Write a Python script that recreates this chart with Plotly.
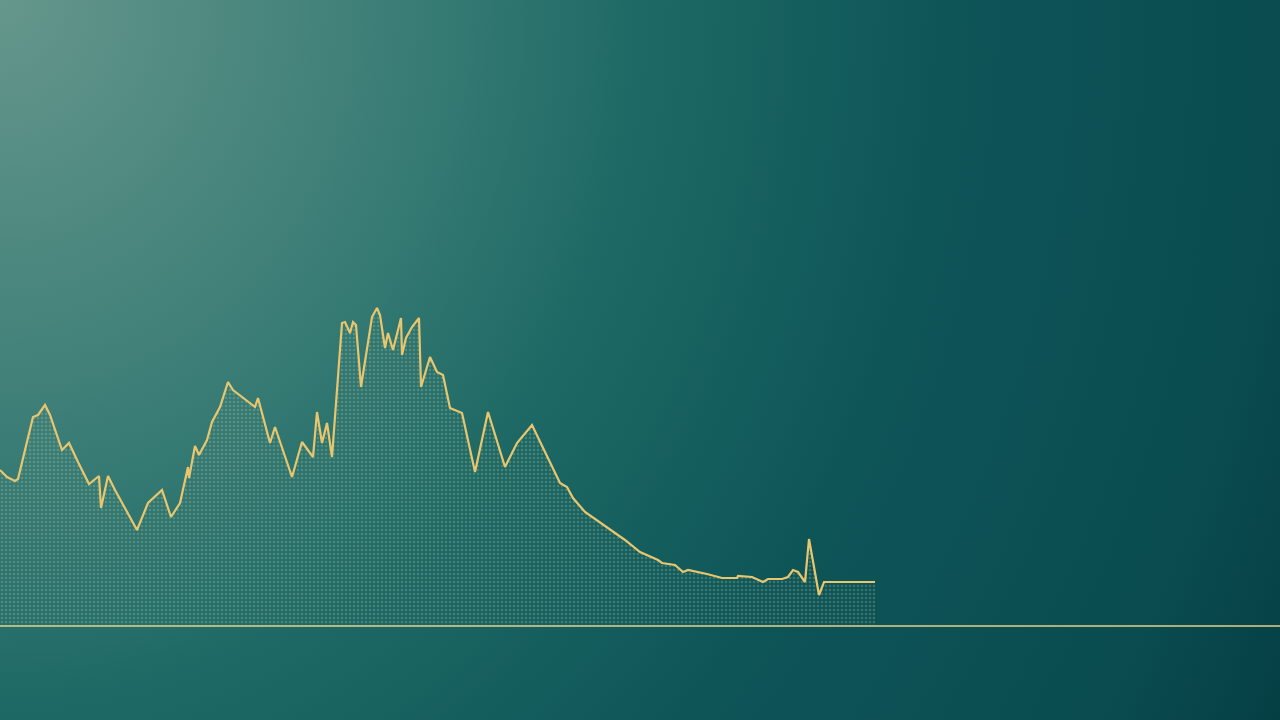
import plotly.graph_objects as go
import urllib.parse

# Horizontal position of each sample (chart units) and height above the baseline
x_vals = [0, 7, 15, 18, 33, 38, 45, 50, 62, 69, 78, 89, 99, 101, 108, 115, 137, 148,
          162, 171, 180, 188, 189, 195, 199, 207, 212, 220, 228, 233, 255, 258, 270, 275,
          292, 302, 313, 317, 322, 327, 332, 342, 345, 350, 353, 356, 361, 372, 377, 380,
          385, 388, 393, 401, 402, 406, 412, 419, 421, 430, 437, 443, 450, 462, 475, 488,
          505, 517, 532, 547, 560, 567, 573, 585, 603, 625, 640, 658, 662, 675, 683, 688,
          707, 722, 737, 738, 752, 763, 768, 782, 788, 793, 798, 805, 809, 815, 819, 824, 875]
y_vals = [156, 149, 145, 147, 209, 211, 221, 211, 176, 183, 164, 142, 150, 118, 150, 136,
          96, 123, 136, 109, 123, 159, 148, 180, 171, 186, 204, 219, 244, 236, 219, 228,
          183, 199, 149, 184, 169, 214, 183, 203, 169, 303, 304, 293, 304, 301, 239, 309,
          318, 311, 278, 293, 276, 308, 271, 288, 299, 308, 239, 269, 254, 251, 218, 213,
          154, 214, 159, 183, 201, 169, 143, 139, 128, 114, 101, 86, 74, 66, 63, 61, 54,
          56, 52, 48, 48, 50, 49, 44, 47, 47, 49, 56, 54, 44, 87, 53, 31, 44, 44]

x_range = [0, 1280]
y_range = [-94, 626]

line_color = "#e9c66e"
base_color = "#e3d08e"

svg = (
    '<svg xmlns="http://www.w3.org/2000/svg" width="1280" height="720" viewBox="0 0 1280 720" preserveAspectRatio="none">'
    '<defs><radialGradient id="g" gradientUnits="userSpaceOnUse" cx="0" cy="0" r="1450" '
    'gradientTransform="scale(1,1.1)">'
    '<stop offset="0" stop-color="#66978c"/>'
    '<stop offset="0.28" stop-color="#3a7d76"/>'
    '<stop offset="0.45" stop-color="#1d6864"/>'
    '<stop offset="0.65" stop-color="#0e5558"/>'
    '<stop offset="0.88" stop-color="#0a4c50"/>'
    '<stop offset="1" stop-color="#043e43"/>'
    '</radialGradient></defs>'
    '<rect x="0" y="0" width="1280" height="720" fill="url(#g)"/></svg>'
)
bg_uri = "data:image/svg+xml;charset=utf-8," + urllib.parse.quote(svg)

fig = go.Figure()

fig.add_trace(go.Scatter(
    x=x_vals, y=y_vals, mode="lines",
    line=dict(color=line_color, width=2.2),
    fill="tozeroy",
    fillcolor="rgba(0,0,0,0)",
    fillpattern=dict(shape=".", fgcolor="rgba(195,210,170,0.5)", bgcolor="rgba(0,0,0,0)",
                     size=4, solidity=0.35, fillmode="overlay"),
    hoverinfo="skip", showlegend=False,
))

fig.add_shape(type="line", xref="paper", x0=0, x1=1, yref="y", y0=0, y1=0,
              line=dict(color=base_color, width=1.5), layer="above")

fig.add_layout_image(dict(source=bg_uri, xref="paper", yref="paper", x=0, y=1,
                          sizex=1, sizey=1, sizing="stretch", layer="below",
                          xanchor="left", yanchor="top"))

fig.update_layout(
    width=1280, height=720,
    margin=dict(l=0, r=0, t=0, b=0),
    paper_bgcolor="#0b5357",
    plot_bgcolor="rgba(0,0,0,0)",
    xaxis=dict(range=x_range, visible=False, fixedrange=True),
    yaxis=dict(range=y_range, visible=False, fixedrange=True),
    showlegend=False,
)

fig.write_html("out.html", config={"displayModeBar": False},
               post_script="document.body.style.margin='0';document.body.style.overflow='hidden';")
